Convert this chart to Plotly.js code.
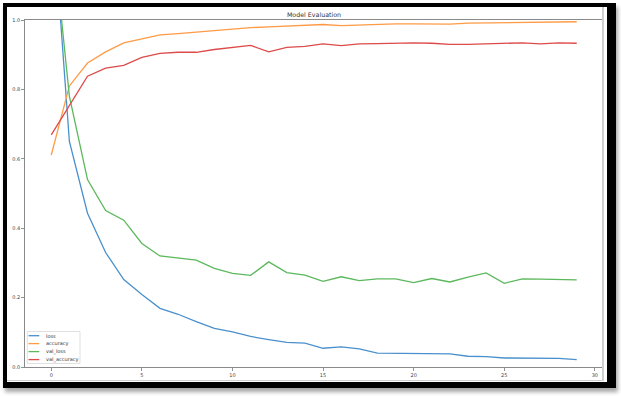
<!DOCTYPE html>
<html>
<head>
<meta charset="utf-8">
<script src="https://cdn.plot.ly/plotly-3.0.1.min.js"></script>
<style>
  html, body { margin: 0; padding: 0; background: #fff; }
  #wrap { position: relative; width: 621px; height: 396px; overflow: hidden; }
  #chart { position: absolute; left: 0; top: 0; width: 621px; height: 396px; }
  #frame { position: absolute; left: 3px; top: 3px; width: 600px; height: 375px;
           border-left: 4px solid #000; border-top: 4px solid #000;
           border-right: 9px solid #000; border-bottom: 6px solid #000;
           box-shadow: 2px 4px 4px rgba(0,0,0,0.35); pointer-events: none; }
  #inner { position: absolute; left: 7px; top: 7px; width: 595px; height: 373px;
           border-right: 2px solid #cfcfcf; border-bottom: 1px solid #cfcfcf; pointer-events: none; }
</style>
</head>
<body>
<div id="wrap">
  <div id="chart"></div>
  <div id="inner"></div>
  <div id="frame"></div>
</div>
<script>
const epochs = [0,1,2,3,4,5,6,7,8,9,10,11,12,13,14,15,16,17,18,19,20,21,22,23,24,25,26,27,28,29];
const loss = [1.37, 0.650, 0.443, 0.330, 0.252, 0.209, 0.169, 0.152, 0.131, 0.111, 0.101, 0.088, 0.079, 0.071, 0.069, 0.054, 0.058, 0.052, 0.040, 0.040, 0.040, 0.038, 0.038, 0.031, 0.030, 0.026, 0.025, 0.025, 0.025, 0.021];
const accuracy = [0.611, 0.810, 0.876, 0.908, 0.934, 0.945, 0.957, 0.961, 0.965, 0.971, 0.974, 0.978, 0.980, 0.982, 0.983, 0.987, 0.984, 0.986, 0.989, 0.989, 0.989, 0.988, 0.988, 0.991, 0.992, 0.993, 0.994, 0.994, 0.994, 0.995];
const val_loss = [1.29, 0.78, 0.540, 0.451, 0.423, 0.356, 0.320, 0.315, 0.308, 0.284, 0.270, 0.264, 0.303, 0.272, 0.265, 0.247, 0.260, 0.249, 0.254, 0.254, 0.243, 0.255, 0.245, 0.259, 0.271, 0.241, 0.254, 0.253, 0.251, 0.251];
const val_accuracy = [0.669, 0.755, 0.838, 0.861, 0.869, 0.892, 0.904, 0.907, 0.907, 0.915, 0.922, 0.927, 0.908, 0.921, 0.924, 0.931, 0.926, 0.931, 0.932, 0.934, 0.934, 0.933, 0.930, 0.930, 0.931, 0.934, 0.934, 0.931, 0.934, 0.933];

const seriesNames = ["loss", "accuracy", "val_loss", "val_accuracy"];
const seriesData = [loss, accuracy, val_loss, val_accuracy];
const seriesColors = ["#4a90cc", "#ff9a45", "#5cb85c", "#dd4a4a"];

const xTicks = [0, 5, 10, 15, 20, 25, 30];
const yTicks = [0.0, 0.2, 0.4, 0.6, 0.8, 1.0];
const chartTitle = "Model Evaluation";

// plot-area geometry (pixels)
const W = 621, H = 396, L = 25, R = 603, T = 20, B = 367;
const px2x = p => (p - L) / (R - L);
const px2y = p => (B - p) / (B - T);

const traces = seriesNames.map((n, i) => ({
  x: epochs, y: seriesData[i], name: n, type: 'scatter', mode: 'lines',
  line: { color: seriesColors[i], width: 1.3 }, showlegend: false, hoverinfo: 'skip'
}));

// legend (box + samples + labels)
const shapes = [{
  type: 'rect', xref: 'paper', yref: 'paper',
  x0: px2x(27.3), x1: px2x(80), y0: px2y(363.5), y1: px2y(331.5),
  line: { color: '#d8d8d8', width: 0.8 }, fillcolor: 'rgba(255,255,255,0.85)', layer: 'above'
}];
const annotations = [];
const rowY = [335.7, 343.6, 351.6, 359.6];
seriesNames.forEach((n, i) => {
  shapes.push({ type: 'line', xref: 'paper', yref: 'paper',
    x0: px2x(28.5), x1: px2x(39.3), y0: px2y(rowY[i]), y1: px2y(rowY[i]),
    line: { color: seriesColors[i], width: 1.3 }, layer: 'above' });
  annotations.push({ xref: 'paper', yref: 'paper', x: px2x(43.5), y: px2y(rowY[i]),
    xanchor: 'left', yanchor: 'middle', text: n, showarrow: false,
    font: { family: 'DejaVu Sans', size: 5, color: '#333' } });
});

const layout = {
  width: W, height: H,
  margin: { l: L, r: W - R, t: T, b: H - B, pad: 0 },
  paper_bgcolor: '#fff', plot_bgcolor: '#fff',
  font: { family: 'DejaVu Sans', size: 5, color: '#444' },
  title: { text: chartTitle, x: 0.5, xref: 'paper', y: 1 - 14.5 / H, yref: 'container',
           xanchor: 'center', yanchor: 'middle',
           font: { family: 'DejaVu Sans', size: 6.3, color: '#333' } },
  xaxis: { range: [-1.45, 30.45], tickvals: xTicks, ticktext: xTicks.map(String),
           showgrid: false, zeroline: false, showline: true, linecolor: '#8a8a8a', linewidth: 1.2,
           mirror: true, ticks: 'outside', ticklen: 2.5, tickwidth: 0.8, tickcolor: '#777',
           tickfont: { family: 'DejaVu Sans', size: 5, color: '#444' } },
  yaxis: { range: [0, 1], tickvals: yTicks, ticktext: yTicks.map(v => v.toFixed(1)),
           showgrid: false, zeroline: false, showline: true, linecolor: '#8a8a8a', linewidth: 1.2,
           ticks: 'outside', ticklen: 2.5, tickwidth: 0.8, tickcolor: '#777',
           tickfont: { family: 'DejaVu Sans', size: 5, color: '#444' } },
  shapes: shapes, annotations: annotations, showlegend: false
};

Plotly.newPlot('chart', traces, layout, { staticPlot: true, displayModeBar: false });
</script>
</body>
</html>
